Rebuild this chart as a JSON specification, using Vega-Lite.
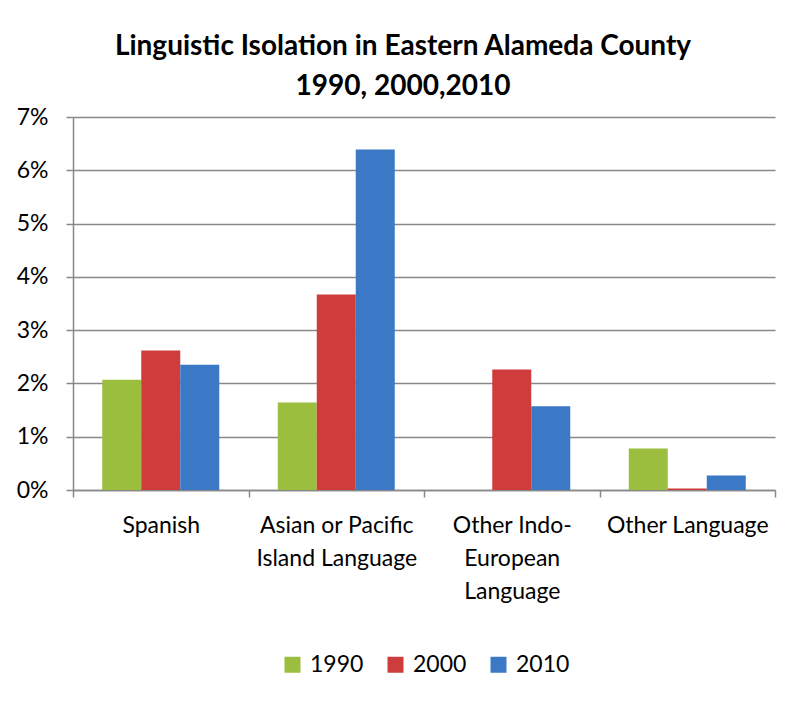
{
  "$schema": "https://vega.github.io/schema/vega-lite/v6.json",
  "autosize": "none",
  "width": 702,
  "height": 373,
  "padding": {"left": 73, "top": 117, "right": 28, "bottom": 212},
  "background": "white",
  "title": {
    "text": ["Linguistic Isolation in Eastern Alameda County", "1990, 2000,2010"],
    "font": "Lato",
    "fontSize": 28,
    "fontWeight": "bold",
    "color": "black",
    "anchor": "middle",
    "dx": -21,
    "lineHeight": 40,
    "offset": 5
  },
  "data": {
    "values": [
      {"category": "Spanish", "year": "1990", "value": 0.0207},
      {"category": "Spanish", "year": "2000", "value": 0.0262},
      {"category": "Spanish", "year": "2010", "value": 0.0235},
      {"category": "Asian or Pacific Island Language", "year": "1990", "value": 0.0164},
      {"category": "Asian or Pacific Island Language", "year": "2000", "value": 0.0367},
      {"category": "Asian or Pacific Island Language", "year": "2010", "value": 0.0639},
      {"category": "Other Indo-European Language", "year": "1990", "value": 0},
      {"category": "Other Indo-European Language", "year": "2000", "value": 0.0226},
      {"category": "Other Indo-European Language", "year": "2010", "value": 0.0157},
      {"category": "Other Language", "year": "1990", "value": 0.0078},
      {"category": "Other Language", "year": "2000", "value": 0.0003},
      {"category": "Other Language", "year": "2010", "value": 0.0027}
    ]
  },
  "mark": {"type": "bar"},
  "encoding": {
    "x": {
      "field": "category",
      "type": "nominal",
      "sort": null,
      "scale": {"paddingInner": 0, "paddingOuter": 0},
      "axis": {
        "title": null,
        "labelAngle": 0,
        "labelFont": "Lato",
        "labelFontSize": 23,
        "labelColor": "black",
        "labelPadding": 17,
        "labelLineHeight": 33,
        "labelExpr": "datum.label == 'Asian or Pacific Island Language' ? ['Asian or Pacific', 'Island Language'] : datum.label == 'Other Indo-European Language' ? ['Other Indo-', 'European', 'Language'] : datum.label",
        "tickBand": "extent",
        "tickSize": 7,
        "tickColor": "#888888",
        "tickWidth": 1.5,
        "domainColor": "#888888",
        "domainWidth": 1.5,
        "grid": false
      }
    },
    "xOffset": {
      "field": "year",
      "type": "nominal",
      "scale": {"paddingInner": 0, "paddingOuter": 0.75}
    },
    "y": {
      "field": "value",
      "type": "quantitative",
      "scale": {"domain": [0, 0.07], "nice": false},
      "axis": {
        "title": null,
        "format": ".0%",
        "values": [0, 0.01, 0.02, 0.03, 0.04, 0.05, 0.06, 0.07],
        "labelFont": "Lato",
        "labelFontSize": 23,
        "labelColor": "black",
        "labelPadding": 18,
        "tickSize": 7,
        "tickColor": "#888888",
        "tickWidth": 1.5,
        "grid": true,
        "gridColor": "#888888",
        "gridWidth": 1.5,
        "domainColor": "#888888",
        "domainWidth": 1.5
      }
    },
    "color": {
      "field": "year",
      "type": "nominal",
      "scale": {"domain": ["1990", "2000", "2010"], "range": ["#9BBE3F", "#CF3C3C", "#3B79C7"]},
      "legend": {
        "title": null,
        "orient": "none",
        "legendX": 208,
        "legendY": 536,
        "direction": "horizontal",
        "symbolType": "square",
        "symbolSize": 256,
        "symbolStrokeWidth": 0,
        "labelFont": "Lato",
        "labelFontSize": 23,
        "labelColor": "black",
        "labelOffset": 6,
        "columnPadding": 20
      }
    }
  },
  "config": {
    "view": {"stroke": null}
  }
}
